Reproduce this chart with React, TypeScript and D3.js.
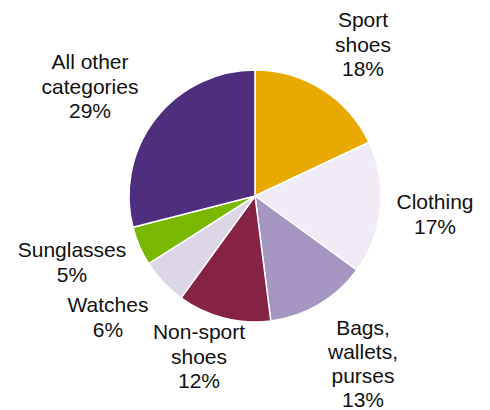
import React from "react";
import * as d3 from "d3";

const categories = [
  "Sport shoes",
  "Clothing",
  "Bags, wallets, purses",
  "Non-sport shoes",
  "Watches",
  "Sunglasses",
  "All other categories",
];
const values = [18, 17, 13, 12, 6, 5, 29];
const labelLines = [
  ["Sport", "shoes"],
  ["Clothing"],
  ["Bags,", "wallets,", "purses"],
  ["Non-sport", "shoes"],
  ["Watches"],
  ["Sunglasses"],
  ["All other", "categories"],
];
const colors = ["#E8A900", "#F0EBF5", "#A595C1", "#862345", "#DDD6E7", "#79B800", "#4F2F7D"];

// label anchor (center x, first baseline y, line height)
const labelPos: [number, number, number][] = [
  [363, 27, 24.6],
  [435, 209, 24.6],
  [363, 335, 24],
  [199, 339, 24.6],
  [108, 312, 24.6],
  [72, 257, 24.6],
  [90, 69, 24.6],
];

export default function App() {
  const W = 490, H = 410;
  const cx = 255, cy = 196, r = 126;
  const pie = d3.pie<number>().sort(null).value((d) => d);
  const arcs = pie(values);
  const arc = d3.arc<d3.PieArcDatum<number>>().innerRadius(0).outerRadius(r);
  return (
    <svg width={W} height={H} style={{ position: "absolute", left: 0, top: 0 }}
      fontFamily="'Liberation Sans', Arial, sans-serif">
      <rect width={W} height={H} fill="#fff" />
      <g transform={`translate(${cx},${cy})`}>
        {arcs.map((a, i) => (
          <path key={i} d={arc(a) || ""} fill={colors[i]} stroke="#fff" strokeWidth={1.5} />
        ))}
      </g>
      {categories.map((c, i) => {
        const lines = [...labelLines[i], `${values[i]}%`];
        const [x, y, lh] = labelPos[i];
        return (
          <text key={c} x={x} y={y} textAnchor="middle" fontSize={21} fill="#111">
            {lines.map((l, j) => (
              <tspan key={j} x={x} y={y + j * lh}>{l}</tspan>
            ))}
          </text>
        );
      })}
    </svg>
  );
}
